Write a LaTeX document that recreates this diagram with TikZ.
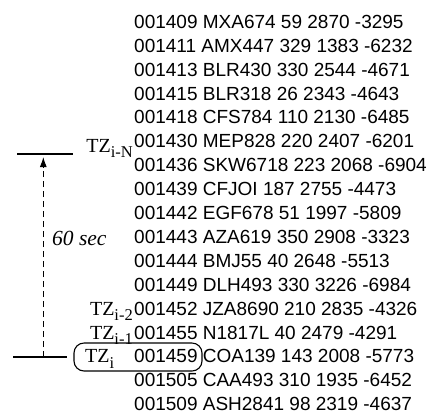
\documentclass[tikz,border=0pt]{standalone}
\usepackage{fontspec}
\setmainfont{Liberation Serif}
\newfontfamily\datafont{Liberation Sans}
\usetikzlibrary{arrows.meta}
\newcommand{\tzlab}[1]{TZ\raisebox{-0.28em}{\fontsize{16.5}{16}\selectfont #1}}
\begin{document}
\begin{tikzpicture}[x=1pt,y=-1pt,
  row/.style={anchor=base west,inner sep=0pt,font=\datafont\fontsize{19}{20}\selectfont},
  tzlabel/.style={anchor=base east,inner sep=0pt,font=\fontsize{20}{20}\selectfont},
  mark line/.style={line width=1.3pt},
  span arrow/.style={line width=1pt,dash pattern=on 6pt off 4pt,-{Latex[length=10pt,width=7pt]}},
  tzbox/.style={draw,line width=1.1pt,rounded corners=10pt,minimum width=128pt,minimum height=28pt,inner sep=0pt}]
\useasboundingbox (0,0) rectangle (427,416);
\foreach \t [count=\k] in {
001409 MXA674 59 2870 -3295,
001411 AMX447 329 1383 -6232,
001413 BLR430 330 2544 -4671,
001415 BLR318 26 2343 -4643,
001418 CFS784 110 2130 -6485,
001430 MEP828 220 2407 -6201,
001436 SKW6718 223 2068 -6904,
001439 CFJOI 187 2755 -4473,
001442 EGF678 51 1997 -5809,
001443 AZA619 350 2908 -3323,
001444 BMJ55 40 2648 -5513,
001449 DLH493 330 3226 -6984,
001452 JZA8690 210 2835 -4326,
001455 N1817L 40 2479 -4291,
001459 COA139 143 2008 -5773,
001505 CAA493 310 1935 -6452,
001509 ASH2841 98 2319 -4637}
  \node[row] (r\k) at (134,{28.3+(\k-1)*23.9}) {\t};
\node[tzlabel] (tzN) at (133,152) {\tzlab{i-N}};
\node[tzlabel] (tz2) at (133,{28.3+12*23.9}) {\tzlab{i-2}};
\node[tzlabel] (tz1) at (133,{28.3+13*23.9}) {\tzlab{i-1}};
\node[tzlabel,anchor=base west] (tzi) at (85,{28.3+14*23.9}) {\tzlab{i}};
\node[tzbox] (box) at (138,357) {};
\node[anchor=base west,inner sep=0pt,font=\itshape\fontsize{21.5}{20}\selectfont] (sec) at (52,245) {60 sec};
\coordinate (topL) at (17,154);
\coordinate (topR) at (73,154);
\coordinate (botL) at (13,357);
\coordinate (botR) at (67,357);
\coordinate (arrS) at (43.3,357);
\coordinate (arrE) at (43.3,157);
\draw[mark line] (topL) -- (topR);
\draw[mark line] (botL) -- (botR);
\draw[span arrow] (arrS) -- (arrE);
\end{tikzpicture}
\end{document}
